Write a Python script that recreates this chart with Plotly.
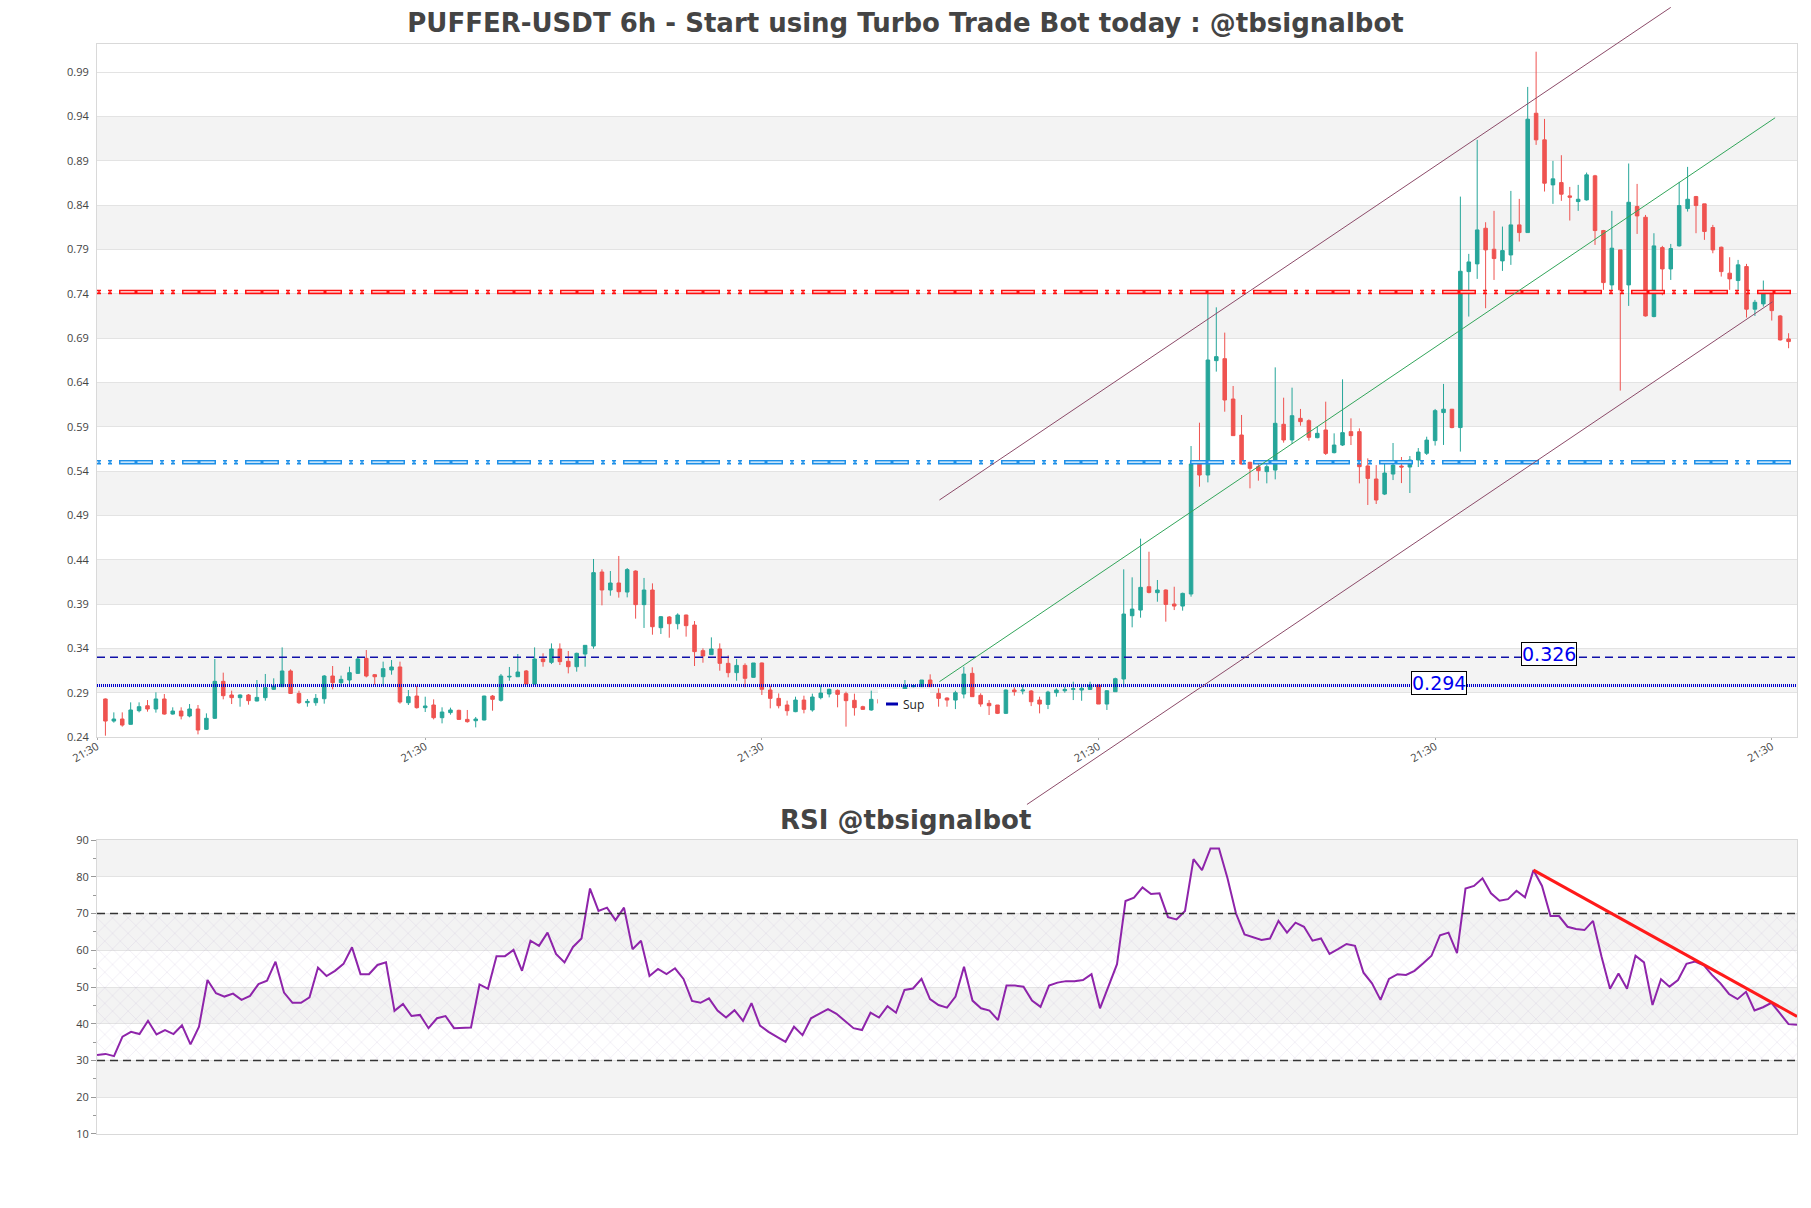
import pandas as pd
import plotly.graph_objects as go

# ---------------- data ----------------
TITLE = "PUFFER-USDT 6h - Start using Turbo Trade Bot today : @tbsignalbot"
RSI_TITLE = "RSI @tbsignalbot"
START = "2024-10-01 09:30"
STEP_HOURS = 6

OPEN = [0.2789,0.2540,0.2563,0.2503,0.2657,0.2713,0.2676,0.2789,0.2619,0.2653,
        0.2597,0.2676,0.2447,0.2571,0.2988,0.2834,0.2804,0.2834,0.2766,0.2804,
        0.2898,0.2928,0.3105,0.2852,0.2747,0.2747,0.2792,0.3048,0.2973,0.3003,
        0.3078,0.3247,0.3063,0.3040,0.3116,0.3150,0.2747,0.2822,0.2691,0.2721,
        0.2578,0.2635,0.2661,0.2559,0.2544,0.2552,0.2822,0.2774,0.3037,0.3040,
        0.3105,0.2958,0.3240,0.3202,0.3353,0.3214,0.3153,0.3296,0.3386,0.4221,
        0.4018,0.4097,0.3995,0.4232,0.3853,0.4018,0.3593,0.3714,0.3638,0.3736,
        0.3623,0.3334,0.3289,0.3353,0.3191,0.3086,0.3168,0.3033,0.3195,0.2890,
        0.2796,0.2721,0.2646,0.2777,0.2665,0.2804,0.2845,0.2886,0.2849,0.2774,
        0.2702,0.2665,0.2785,0.2740,0.2790,0.2760,0.2928,0.2928,0.3003,0.2852,
        0.2800,0.2777,0.2845,0.3078,0.2830,0.2740,0.2721,0.2627,0.2890,0.2879,
        0.2879,0.2777,0.2728,0.2860,0.2882,0.2897,0.2890,0.2897,0.2946,0.2732,
        0.2871,0.3014,0.3728,0.3792,0.4055,0.3988,0.4018,0.3860,0.3837,0.3973,
        0.5439,0.5315,0.6605,0.6627,0.6172,0.5766,0.5458,0.5409,0.5353,0.5371,
        0.5887,0.5710,0.5954,0.5928,0.5736,0.5823,0.5567,0.5653,0.5804,0.5804,
        0.5417,0.5270,0.5100,0.5326,0.5416,0.5405,0.5484,0.5560,0.5703,0.6019,
        0.6057,0.5850,0.7609,0.7696,0.8098,0.7861,0.7730,0.7797,0.8136,0.8049,
        0.9395,0.9095,0.8587,0.8613,0.8463,0.8399,0.8418,0.8689,0.8072,0.7459,
        0.7854,0.7459,0.8343,0.8222,0.7102,0.7880,0.7639,0.7899,0.8320,0.8455,
        0.8373,0.8106,0.7884,0.7591,0.7508,0.7666,0.7185,0.7245,0.7373,0.7109,
        0.6850]
HIGH = [0.2795,0.2638,0.2638,0.2751,0.2751,0.2777,0.2864,0.2845,0.2695,0.2695,
        0.2732,0.2721,0.2627,0.3240,0.3086,0.2883,0.2841,0.2845,0.3003,0.3071,
        0.3022,0.3371,0.3123,0.2883,0.2789,0.2845,0.3059,0.3161,0.3052,0.3153,
        0.3266,0.3341,0.3071,0.3210,0.3228,0.3210,0.2890,0.2939,0.2815,0.2785,
        0.2695,0.2691,0.2668,0.2665,0.2586,0.2826,0.2834,0.3071,0.3150,0.3296,
        0.3116,0.3371,0.3304,0.3416,0.3416,0.3330,0.3311,0.3394,0.4368,0.4251,
        0.4232,0.4402,0.4266,0.4240,0.4154,0.4093,0.3725,0.3725,0.3755,0.3740,
        0.3668,0.3360,0.3484,0.3416,0.3281,0.3240,0.3191,0.3195,0.3200,0.2939,
        0.2852,0.2770,0.2815,0.2826,0.2849,0.2943,0.2905,0.2898,0.2871,0.2849,
        0.2713,0.2883,0.2815,0.2800,0.2810,0.3003,0.2945,0.3003,0.3067,0.2909,
        0.2807,0.2882,0.3153,0.3146,0.2853,0.2777,0.2721,0.2897,0.2920,0.2946,
        0.2890,0.2815,0.2882,0.2909,0.2928,0.2984,0.2946,0.2984,0.2950,0.2890,
        0.3029,0.4251,0.4161,0.4597,0.4450,0.4131,0.4025,0.4055,0.3988,0.5642,
        0.5905,0.7364,0.7206,0.6921,0.6319,0.5992,0.5465,0.5477,0.5435,0.6529,
        0.6187,0.6300,0.6060,0.5943,0.5860,0.6142,0.5785,0.6394,0.5954,0.5841,
        0.5503,0.5427,0.5450,0.5676,0.5518,0.5529,0.5619,0.5747,0.6060,0.6342,
        0.6060,0.8455,0.7809,0.9095,0.8166,0.8294,0.8117,0.8519,0.8429,0.9692,
        1.0089,0.9331,0.8858,0.8922,0.8564,0.8587,0.8726,0.8700,0.8079,0.8294,
        0.7854,0.8828,0.8598,0.8248,0.8042,0.7899,0.7921,0.8621,0.8790,0.8463,
        0.8373,0.8136,0.7891,0.7771,0.7741,0.7696,0.7290,0.7508,0.7391,0.7120,
        0.6914]
LOW = [0.2375,0.2522,0.2477,0.2500,0.2638,0.2646,0.2635,0.2612,0.2612,0.2559,
       0.2582,0.2390,0.2440,0.2563,0.2785,0.2732,0.2702,0.2725,0.2762,0.2770,
       0.2890,0.2928,0.2845,0.2732,0.2702,0.2713,0.2736,0.2898,0.2928,0.2935,
       0.3071,0.3033,0.2950,0.2935,0.3063,0.2736,0.2721,0.2680,0.2642,0.2559,
       0.2514,0.2612,0.2552,0.2522,0.2469,0.2548,0.2657,0.2759,0.2995,0.3040,
       0.2954,0.2954,0.3153,0.3183,0.3172,0.3078,0.3097,0.3153,0.3356,0.3845,
       0.3954,0.3932,0.3935,0.3695,0.3590,0.3514,0.3522,0.3480,0.3574,0.3492,
       0.3161,0.3198,0.3285,0.3108,0.3033,0.2995,0.2920,0.3030,0.2834,0.2683,
       0.2683,0.2601,0.2640,0.2627,0.2646,0.2785,0.2807,0.2695,0.2477,0.2601,
       0.2665,0.2657,0.2702,0.2720,0.2740,0.2750,0.2920,0.2928,0.2928,0.2702,
       0.2702,0.2675,0.2796,0.2815,0.2702,0.2608,0.2619,0.2619,0.2826,0.2841,
       0.2709,0.2627,0.2675,0.2815,0.2860,0.2777,0.2769,0.2890,0.2732,0.2665,
       0.2871,0.2920,0.3597,0.3706,0.3980,0.3886,0.3661,0.3792,0.3785,0.3943,
       0.5183,0.5232,0.6481,0.6029,0.5759,0.5435,0.5165,0.5251,0.5221,0.5266,
       0.5680,0.5665,0.5871,0.5702,0.5729,0.5541,0.5559,0.5642,0.5653,0.5221,
       0.4977,0.4988,0.5089,0.5258,0.5224,0.5112,0.5405,0.5541,0.5647,0.5654,
       0.5842,0.5579,0.7102,0.7527,0.7196,0.7515,0.7617,0.7685,0.7948,0.8049,
       0.9038,0.8512,0.8373,0.8407,0.8185,0.8294,0.8410,0.7910,0.7403,0.7403,
       0.6267,0.7222,0.8034,0.7102,0.7094,0.7342,0.7515,0.7891,0.8286,0.8042,
       0.7967,0.7816,0.7553,0.7403,0.7403,0.7091,0.7109,0.7215,0.7057,0.6831,
       0.6745]
CLOSE = [0.2540,0.2563,0.2495,0.2665,0.2702,0.2676,0.2789,0.2619,0.2653,0.2597,
         0.2676,0.2439,0.2571,0.2988,0.2826,0.2804,0.2834,0.2770,0.2807,0.2917,
         0.2935,0.3105,0.2852,0.2747,0.2762,0.2796,0.3048,0.2973,0.3010,0.3086,
         0.3240,0.3048,0.3040,0.3131,0.3150,0.2755,0.2815,0.2691,0.2710,0.2578,
         0.2642,0.2665,0.2559,0.2533,0.2563,0.2822,0.2785,0.3048,0.3044,0.3093,
         0.2958,0.3240,0.3210,0.3353,0.3210,0.3153,0.3304,0.3394,0.4214,0.4018,
         0.4097,0.3999,0.4248,0.3853,0.4018,0.3604,0.3717,0.3638,0.3736,0.3616,
         0.3323,0.3274,0.3353,0.3191,0.3086,0.3168,0.3022,0.3195,0.2898,0.2796,
         0.2713,0.2657,0.2777,0.2672,0.2811,0.2856,0.2898,0.2841,0.2770,0.2691,
         0.2672,0.2785,0.2740,0.2790,0.2760,0.2940,0.2939,0.3003,0.2928,0.2796,
         0.2777,0.2860,0.3070,0.2815,0.2732,0.2713,0.2627,0.2890,0.2871,0.2890,
         0.2758,0.2732,0.2867,0.2890,0.2897,0.2905,0.2909,0.2946,0.2732,0.2882,
         0.3018,0.3747,0.3803,0.4048,0.3991,0.4018,0.3856,0.3837,0.3980,0.5439,
         0.5315,0.6612,0.6650,0.6161,0.5759,0.5439,0.5390,0.5364,0.5409,0.5898,
         0.5710,0.5984,0.5917,0.5740,0.5785,0.5559,0.5653,0.5793,0.5759,0.5409,
         0.5277,0.5033,0.5337,0.5427,0.5405,0.5484,0.5574,0.5709,0.6041,0.6057,
         0.5850,0.7613,0.7718,0.8079,0.7854,0.7756,0.7846,0.8136,0.8049,0.9328,
         0.9095,0.8606,0.8655,0.8482,0.8448,0.8425,0.8700,0.8072,0.7485,0.7873,
         0.7403,0.8391,0.8237,0.7109,0.7899,0.7639,0.7869,0.8354,0.8425,0.8354,
         0.8061,0.7854,0.7609,0.7527,0.7685,0.7185,0.7263,0.7357,0.7169,0.6839,
         0.6820]
RSI = [31.5,31.8,31.2,36.5,37.8,37.2,40.8,37.1,38.3,37.2,
       39.6,34.4,39.2,51.9,48.3,47.4,48.2,46.5,47.6,50.8,
       51.7,56.9,48.5,45.7,45.7,47.2,55.3,53.0,54.4,56.3,
       60.8,53.5,53.5,56.0,56.7,43.5,45.4,42.1,42.4,38.8,
       41.5,42.1,38.8,38.8,39.0,50.7,49.5,58.4,58.4,60.1,
       54.4,62.6,61.2,64.8,59.0,56.7,60.9,63.2,76.8,70.7,
       71.6,68.2,71.6,60.3,62.6,53.0,54.9,53.5,55.1,52.2,
       46.2,45.7,46.9,43.6,41.7,43.7,40.8,45.6,39.5,37.8,
       36.5,35.1,39.2,36.9,41.5,42.7,44.0,42.7,40.8,38.8,
       38.3,43.0,41.7,44.8,43.0,49.2,49.6,52.2,46.7,45.1,
       44.4,47.4,55.5,46.3,44.2,43.6,41.0,50.4,50.4,50.1,
       46.3,44.6,50.4,51.2,51.6,51.6,51.9,53.5,44.2,50.1,
       56.2,73.4,74.3,77.1,75.3,75.5,69.0,68.4,70.7,84.8,
       81.8,87.7,87.7,79.6,70.0,64.3,63.5,62.8,63.2,68.0,
       64.8,67.5,66.4,62.6,63.2,59.0,60.3,61.7,61.2,53.9,
       51.0,46.5,52.2,53.5,53.3,54.4,56.4,58.5,64.1,64.8,
       59.2,76.8,77.5,79.6,75.5,73.5,73.9,76.2,74.4,81.8,
       77.5,69.3,69.3,66.4,65.8,65.5,68.0,58.3,49.5,53.7,
       49.5,58.5,56.7,45.1,52.1,50.1,51.9,56.3,56.9,56.0,
       53.3,51.0,48.1,46.7,48.7,43.6,44.5,45.7,42.8,39.9,
       39.7]

RESISTANCE_LEVEL = 0.738
ZONE_LEVEL = 0.546
SUP_DASHED = 0.326
SUP_DOTTED = 0.294
LABEL_326 = "0.326"
LABEL_294 = "0.294"
LEGEND_NAME = "Sup"

Y_TICKS = [0.236, 0.286, 0.336, 0.386, 0.436, 0.486, 0.536, 0.586,
           0.636, 0.686, 0.736, 0.786, 0.836, 0.886, 0.936, 0.986]
Y_TICK_TEXT = ["0.24", "0.29", "0.34", "0.39", "0.44", "0.49", "0.54", "0.59",
               "0.64", "0.69", "0.74", "0.79", "0.84", "0.89", "0.94", "0.99"]
X_TICK_IDX = [-1, 38, 78, 118, 158, 198]
X_TICK_TEXT = ["21:30", "21:30", "21:30", "21:30", "21:30", "21:30"]
RSI_TICKS = [10, 20, 30, 40, 50, 60, 70, 80, 90]

# channel lines (candle index, price)
CH_UPPER = [(99.1, 0.5033), (186.0, 1.0589)]
CH_MID = [(99.1, 0.2984), (198.4, 0.9344)]
CH_LOWER = [(109.5, 0.1599), (198.1, 0.7269)]
RSI_TREND = [(169, 81.8), (200, 42.0)]

# ---------------- helpers ----------------
N = len(OPEN)
t0 = pd.Timestamp(START)
def t(k):
    return t0 + pd.Timedelta(hours=STEP_HOURS * k)
dates = [t(k) for k in range(N)]

X_RANGE_IDX = (-1.0, 201.0)
Y_RANGE = (0.236, 1.0176)
MAIN_DOM = (0.3642, 1.0)
RSI_DOM = (0.0, 0.2697)

def px(k):
    return (k - X_RANGE_IDX[0]) / (X_RANGE_IDX[1] - X_RANGE_IDX[0])
def py(p):
    return MAIN_DOM[0] + (MAIN_DOM[1] - MAIN_DOM[0]) * (p - Y_RANGE[0]) / (Y_RANGE[1] - Y_RANGE[0])

GREEN = "#26a69a"
RED = "#ef5350"
FONT = "Open Sans"
TITLE_FONT = "DejaVu Sans"
TXT = "#444444"

fig = go.Figure()

fig.add_trace(go.Candlestick(
    x=dates, open=OPEN, high=HIGH, low=LOW, close=CLOSE,
    increasing=dict(line=dict(color=GREEN, width=1), fillcolor=GREEN),
    decreasing=dict(line=dict(color=RED, width=1), fillcolor=RED),
    showlegend=False, xaxis="x", yaxis="y", hoverinfo="skip"))

# legend entry
fig.add_trace(go.Scatter(x=[None], y=[None], mode="lines", name=LEGEND_NAME,
                         line=dict(color="#0000b0", width=3, dash="0px,18px,12px,60px"),
                         xaxis="x", yaxis="y"))

# RSI hatch zone
fig.add_trace(go.Scatter(
    x=[dates[0], dates[-1], dates[-1], dates[0], dates[0]], y=[30, 30, 70, 70, 30],
    mode="none", fill="toself", fillcolor="rgba(0,0,0,0)",
    fillpattern=dict(shape="x", fgcolor="rgba(170,150,200,0.75)", bgcolor="rgba(0,0,0,0)",
                     size=11, solidity=0.07),
    showlegend=False, xaxis="x2", yaxis="y2", hoverinfo="skip"))

fig.add_trace(go.Scatter(x=dates, y=RSI, mode="lines",
                         line=dict(color="#8e24aa", width=2),
                         showlegend=False, xaxis="x2", yaxis="y2", hoverinfo="skip"))

shapes = []
# alternating bands main
for i in range(1, len(Y_TICKS) - 1, 2):
    shapes.append(dict(type="rect", xref="paper", yref="y", x0=0, x1=1,
                       y0=Y_TICKS[i], y1=Y_TICKS[i + 1], fillcolor="#f3f3f3",
                       line=dict(width=0), layer="below"))
for lo in (20, 40, 60, 80):
    shapes.append(dict(type="rect", xref="paper", yref="y2", x0=0, x1=1,
                       y0=lo, y1=lo + 10, fillcolor="#f3f3f3",
                       line=dict(width=0), layer="below"))

OUTER_PAT = "4px,7px,4px,7px,34px,7px"
INNER_PAT = "1.3px,1.4px,1.3px,7px,1.3px,1.4px,1.3px,8.5px,14px,3px,14px,8.5px"
for lvl, col in ((RESISTANCE_LEVEL, "#ff1010"), (ZONE_LEVEL, "#1e90e8")):
    shapes.append(dict(type="line", xref="paper", yref="y", x0=0, x1=1, y0=lvl, y1=lvl,
                       line=dict(color=col, width=4.5, dash=OUTER_PAT), layer="above"))
    shapes.append(dict(type="line", xref="paper", yref="y", x0=0, x1=1, y0=lvl, y1=lvl,
                       line=dict(color="white", width=1.3, dash=INNER_PAT), layer="above"))

shapes.append(dict(type="line", xref="paper", yref="y", x0=0, x1=1, y0=SUP_DASHED, y1=SUP_DASHED,
                   line=dict(color="#1010a8", width=1.6, dash="8px,5px"), layer="above"))
shapes.append(dict(type="line", xref="paper", yref="y", x0=0, x1=1, y0=SUP_DOTTED, y1=SUP_DOTTED,
                   line=dict(color="#0000cc", width=3, dash="1px,1px"), layer="above"))

# channel
for (a, b), col in ((CH_UPPER, "rgb(140,75,105)"), (CH_LOWER, "rgb(140,75,105)"),
                    (CH_MID, "rgb(50,165,90)")):
    shapes.append(dict(type="line", xref="paper", yref="paper",
                       x0=px(a[0]), y0=py(a[1]), x1=px(b[0]), y1=py(b[1]),
                       line=dict(color=col, width=1), layer="above"))

# RSI levels
for lvl in (30, 70):
    shapes.append(dict(type="line", xref="paper", yref="y2", x0=0, x1=1, y0=lvl, y1=lvl,
                       line=dict(color="#333333", width=1.3, dash="8px,5px"), layer="above"))
shapes.append(dict(type="line", xref="x2", yref="y2",
                   x0=t(RSI_TREND[0][0]), y0=RSI_TREND[0][1],
                   x1=t(RSI_TREND[1][0]), y1=RSI_TREND[1][1],
                   line=dict(color="#ff1a1a", width=3), layer="above"))

annotations = [
    dict(text="<b>" + RSI_TITLE + "</b>", xref="paper", yref="paper", x=0.4756, y=0.288,
         xanchor="center", yanchor="middle", showarrow=False,
         font=dict(family=TITLE_FONT, size=26, color=TXT)),
    dict(text=LABEL_326, x=t(171.5), y=SUP_DASHED, xref="x", yref="y", showarrow=False,
         yshift=3, bgcolor="white", bordercolor="black", borderwidth=1, borderpad=0,
         font=dict(family="DejaVu Sans", size=19, color="#0000ee")),
    dict(text=LABEL_294, x=t(158.5), y=SUP_DOTTED, xref="x", yref="y", showarrow=False,
         yshift=3, bgcolor="white", bordercolor="black", borderwidth=1, borderpad=0,
         font=dict(family="DejaVu Sans", size=19, color="#0000ee")),
]

AXLINE = "#d9d9d9"
GRID = "#e3e3e3"
fig.update_layout(
    width=1811, height=1208,
    margin=dict(l=97, r=14, t=44, b=74),
    paper_bgcolor="white", plot_bgcolor="white",
    font=dict(family=FONT, color=TXT),
    title=dict(text="<b>" + TITLE + "</b>", x=0.5, xref="container", xanchor="center",
               y=1 - 23 / 1208, yref="container", yanchor="middle",
               font=dict(family=TITLE_FONT, size=26, color=TXT)),
    showlegend=True,
    legend=dict(x=0.4594, y=0.4078, xanchor="left", yanchor="top", bgcolor="white",
                font=dict(size=12, color="#222"), itemwidth=30, indentation=-15,
                borderwidth=0),
    xaxis=dict(type="date", domain=[0, 1], anchor="y",
               range=[t(X_RANGE_IDX[0]), t(X_RANGE_IDX[1])],
               tickvals=[t(k) for k in X_TICK_IDX],
               ticktext=X_TICK_TEXT, tickangle=-30, ticklabelstandoff=-4,
               tickfont=dict(size=11, color=TXT), ticks="outside", ticklen=2, tickcolor="#aaa",
               showgrid=False, showline=True, mirror=True, linecolor=AXLINE, zeroline=False,
               rangeslider=dict(visible=False)),
    yaxis=dict(domain=list(MAIN_DOM), anchor="x", range=list(Y_RANGE),
               tickvals=Y_TICKS, ticktext=Y_TICK_TEXT, tickfont=dict(size=11, color=TXT),
               ticks="outside", ticklen=5, tickcolor="rgba(0,0,0,0)",
               showgrid=True, gridcolor=GRID, showline=True, mirror=True, linecolor=AXLINE,
               zeroline=False),
    xaxis2=dict(type="date", domain=[0, 1], anchor="y2", range=[dates[0], dates[-1]],
                showticklabels=False, ticks="", showgrid=False, showline=True, mirror=True,
                linecolor=AXLINE, zeroline=False),
    yaxis2=dict(domain=list(RSI_DOM), anchor="x2", range=[10, 90], tickvals=RSI_TICKS,
                tickfont=dict(size=11, color=TXT), ticks="outside", ticklen=5, tickcolor="#999",
                minor=dict(dtick=5, tick0=5, ticks="outside", ticklen=3, tickcolor="#999",
                           showgrid=False),
                showgrid=True, gridcolor=GRID, showline=True, mirror=True, linecolor=AXLINE,
                zeroline=False),
    boxgap=0.4,
    shapes=shapes, annotations=annotations,
)

fig.write_html("out.html")
